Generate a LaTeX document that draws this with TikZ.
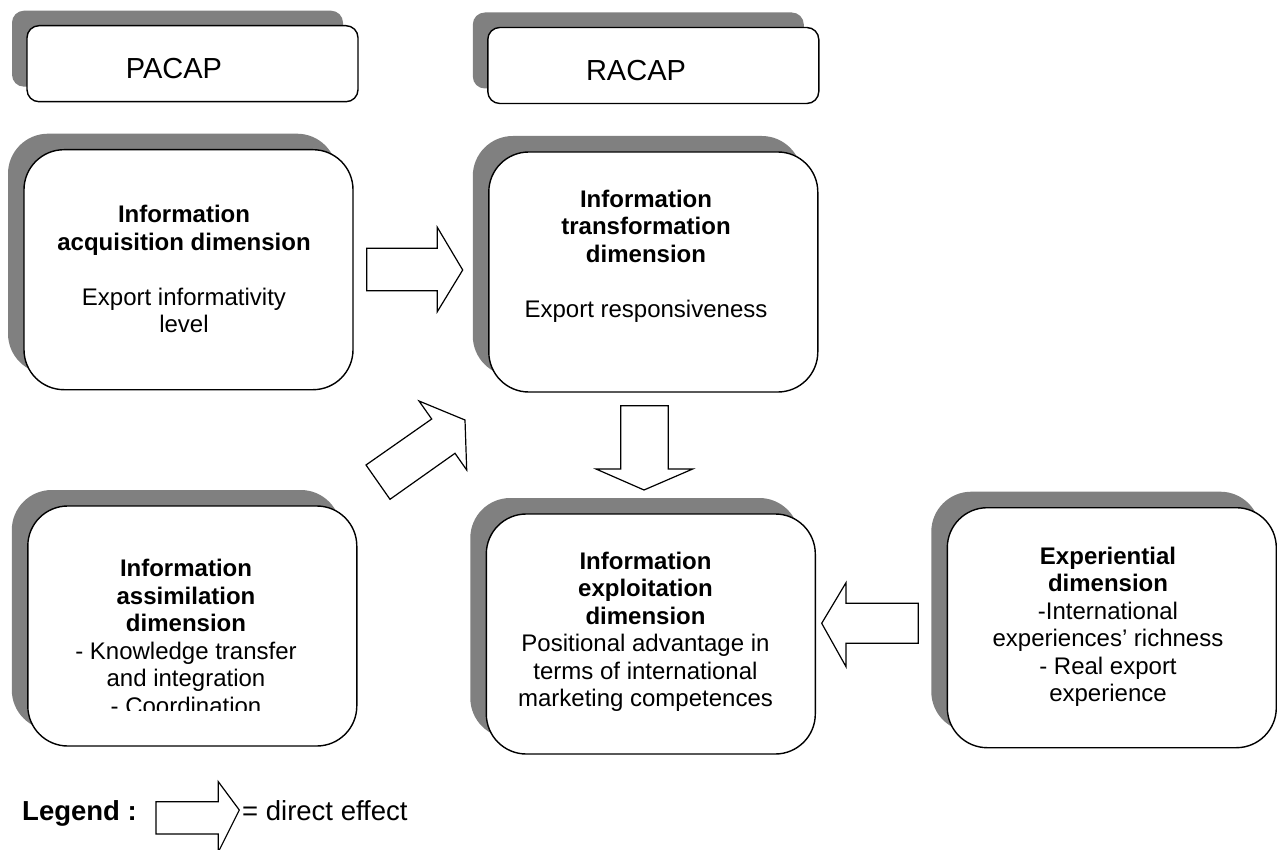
\documentclass[tikz,border=0pt]{standalone}
\usepackage{fontspec}
\setmainfont{Liberation Sans}
\usetikzlibrary{shadows}
\definecolor{shadowgrey}{RGB}{128,128,128}
\begin{document}
\begin{tikzpicture}[x=1pt,y=-1pt,
  capbox/.style={draw, line width=1.4pt, fill=white, rounded corners=12pt, inner sep=0pt,
    minimum width=331pt, minimum height=76pt,
    drop shadow={shadow xshift=-15pt, shadow yshift=15pt, fill=shadowgrey, opacity=1}},
  dimbox/.style={draw, line width=1.4pt, fill=white, rounded corners=40pt, inner sep=0pt,
    minimum width=329pt, minimum height=240pt,
    drop shadow={shadow xshift=-16pt, shadow yshift=16pt, fill=shadowgrey, opacity=1}},
  txt/.style={align=center, inner sep=0pt, anchor=north, font=\fontsize{24}{27.5}\selectfont},
  captxt/.style={inner sep=0pt, font=\fontsize{29}{33}\selectfont},
  effect/.style={draw, fill=white, line width=1.2pt, line join=miter}]
\useasboundingbox (0,0) rectangle (1277,850);
% capacity headers
\node[capbox] (pacap) at (192.5,63.7) {};
\node[capbox] (racap) at (653.3,65.5) {};
\node[captxt] (pacapT) at (174,68.3) {PACAP};
\node[captxt] (racapT) at (636,71) {RACAP};
% dimensions
\node[dimbox] (acq) at (188.5,269.7) {};
\node[dimbox] (trans) at (653.3,272) {};
\node[dimbox] (assim) at (192.3,626) {};
\node[dimbox] (explo) at (650.8,634) {};
\node[dimbox] (exper) at (1111.8,627.7) {};
\node[txt] (acqT) at (184,205.2) {\textbf{Information}\\\textbf{acquisition dimension}\\[27.5pt]Export informativity\\level};
\node[txt] (transT) at (646,189.8) {\textbf{Information}\\\textbf{transformation}\\\textbf{dimension}\\[27.5pt]Export responsiveness};
\begin{scope}
\clip (0,0) rectangle (1277,710);
\node[txt] (assimT) at (186,559) {\textbf{Information}\\\textbf{assimilation}\\\textbf{dimension}\\- Knowledge transfer\\and integration\\- Coordination};
\end{scope}
\node[txt] (exploT) at (645.5,551.8) {\textbf{Information}\\\textbf{exploitation}\\\textbf{dimension}\\Positional advantage in\\terms of international\\marketing competences};
\node[txt] (experT) at (1108,546.5) {\textbf{Experiential}\\\textbf{dimension}\\-International\\experiences’ richness\\- Real export\\experience};
% effects
\draw[effect] (366.7,248.3) -- (437.3,248.3) -- (437.3,227.3) -- (462.7,270) -- (437.3,311.7) -- (437.3,290.7) -- (366.7,290.7) -- cycle;
\draw[effect] (366,465) -- (431.7,419) -- (419,401) -- (465,420) -- (466.7,470) -- (455,453.3) -- (390,499.3) -- cycle;
\draw[effect] (620.7,405.7) -- (668.3,405.7) -- (668.3,469) -- (692.7,469) -- (644,490) -- (596,469) -- (620.7,469) -- cycle;
\draw[effect] (918.3,603.3) -- (846,603.3) -- (846,582.7) -- (821.7,623.3) -- (846,666.7) -- (846,643.3) -- (918.3,643.3) -- cycle;
% legend
\node[anchor=base west, inner sep=0pt, font=\fontsize{27.5}{33}\selectfont\bfseries] (legT) at (22,820.7) {Legend :};
\draw[effect] (156,801.7) -- (218.3,801.7) -- (218.3,781.7) -- (239.3,810) -- (218.3,852) -- (218.3,834) -- (156,834) -- cycle;
\node[anchor=base west, inner sep=0pt, font=\fontsize{27.5}{33}\selectfont] (effT) at (242,820.7) {= direct effect};
\end{tikzpicture}
\end{document}
